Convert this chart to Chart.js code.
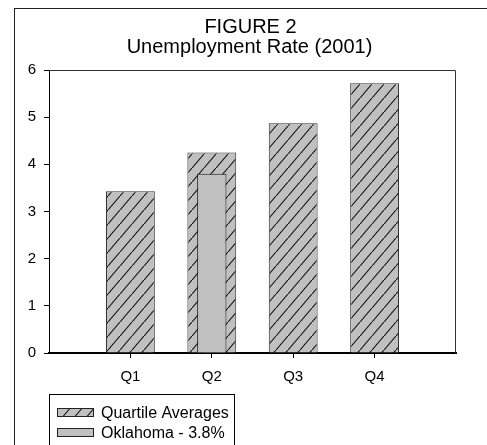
<!DOCTYPE html>
<html>
<head>
<meta charset="utf-8">
<script src="https://cdn.jsdelivr.net/npm/chart.js@4.4.1/dist/chart.umd.min.js"></script>
<style>
    body { margin: 0; background: #fff; }
    canvas { display: block; }
</style>
</head>
<body>
<canvas id="unemploymentChart" width="487" height="445"></canvas>
<script>
// empty slots at both ends keep the quartiles off the plot edges
const categories = ["", "Q1", "Q2", "Q3", "Q4", ""];
const quartileAverages = [null, 3.43, 4.25, 4.87, 5.72, null];
const oklahoma = [null, null, 3.8, null, null, null];
const yTicks = [0, 1, 2, 3, 4, 5, 6];
const titleLines = ["FIGURE 2", "Unemployment Rate (2001)"];
const seriesNames = ["Quartile Averages", "Oklahoma - 3.8%"];

const FONT = '"Liberation Sans", Arial, Helvetica, sans-serif';

// diagonal hatch used for the quartile bars
function makeHatch() {
    const tile = document.createElement("canvas");
    tile.width = 12;
    tile.height = 14;
    const c = tile.getContext("2d");
    c.fillStyle = "#c0c0c0";
    c.fillRect(0, 0, 12, 14);
    c.strokeStyle = "#111";
    c.lineWidth = 1.1;
    c.beginPath();
    c.moveTo(-2, 14 + 14 / 6);
    c.lineTo(14, -14 / 6);
    c.stroke();
    return c.createPattern(tile, "repeat");
}

const ctx = document.getElementById("unemploymentChart").getContext("2d");
const hatch = makeHatch();

// frame, titles, plot border and the boxed legend
const decorations = {
    id: "decorations",
    beforeDraw(chart) {
        const c = chart.ctx;
        c.save();
        c.fillStyle = "#fff";
        c.fillRect(0, 0, chart.width, chart.height);
        c.strokeStyle = "#222";
        c.lineWidth = 1;
        c.strokeRect(14.5, 8.5, chart.width, chart.height);
        c.fillStyle = "#000";
        c.textAlign = "center";
        c.textBaseline = "alphabetic";
        c.font = "20px " + FONT;
        c.fillText(titleLines[0], 250.5, 32.5);
        c.fillText(titleLines[1], 249.5, 53);
        c.restore();
    },
    afterDraw(chart) {
        const c = chart.ctx;
        const a = chart.chartArea;
        c.save();
        c.strokeStyle = "#333";
        c.lineWidth = 1;
        c.beginPath();
        c.moveTo(a.left, a.top + 0.5);
        c.lineTo(a.right - 0.5, a.top + 0.5);
        c.lineTo(a.right - 0.5, a.bottom);
        c.stroke();

        // legend box
        c.strokeStyle = "#000";
        c.strokeRect(49.5, 394.5, 185, 80);
        c.font = "16px " + FONT;
        c.textAlign = "left";
        c.textBaseline = "alphabetic";
        const rows = [chart.data.datasets[1], chart.data.datasets[0]];
        rows.forEach(function (ds, i) {
            const y = 408.5 + i * 20;
            c.fillStyle = ds.backgroundColor;
            c.fillRect(57.5, y, 36, 8);
            c.strokeStyle = "#222";
            c.strokeRect(57.5, y, 36, 8);
            c.fillStyle = "#000";
            c.fillText(ds.label, 101, 418 + i * 20);
        });
        c.restore();
    }
};

new Chart(ctx, {
    type: "bar",
    data: {
        labels: categories,
        datasets: [{
            label: seriesNames[1],
            data: oklahoma,
            backgroundColor: "#c0c0c0",
            borderColor: "#1a1a1a",
            borderWidth: 1,
            borderSkipped: "start",
            grouped: false,
            order: 0,
            categoryPercentage: 1,
            barPercentage: 0.36
        }, {
            label: seriesNames[0],
            data: quartileAverages,
            backgroundColor: hatch,
            borderColor: "#333",
            borderWidth: 1,
            borderSkipped: "start",
            grouped: false,
            order: 1,
            categoryPercentage: 1,
            barPercentage: 0.6
        }]
    },
    options: {
        responsive: false,
        animation: false,
        layout: { padding: { top: 70, right: 31, left: 0, bottom: 0 } },
        plugins: {
            legend: { display: false },
            title: { display: false },
            tooltip: { enabled: false }
        },
        scales: {
            x: {
                offset: false,
                grid: {
                    offset: false,
                    drawOnChartArea: false,
                    tickLength: 5,
                    color: function (g) {
                        return categories[g.index] ? "#000" : "rgba(0,0,0,0)";
                    }
                },
                border: { color: "#000", width: 2 },
                ticks: {
                    color: "#000",
                    font: { family: FONT, size: 15 },
                    padding: 10,
                    maxRotation: 0,
                    autoSkip: false
                },
                afterFit: function (scale) { scale.height = 92; }
            },
            y: {
                min: yTicks[0],
                max: yTicks[yTicks.length - 1],
                afterBuildTicks: function (scale) {
                    scale.ticks = yTicks.map(function (v) { return { value: v }; });
                },
                grid: {
                    drawOnChartArea: false,
                    tickLength: 5,
                    color: "#000"
                },
                border: { color: "#000", width: 1 },
                ticks: {
                    color: "#000",
                    font: { family: FONT, size: 15 },
                    padding: 8
                },
                afterFit: function (scale) { scale.width = 49; }
            }
        }
    },
    plugins: [decorations]
});
</script>
</body>
</html>
